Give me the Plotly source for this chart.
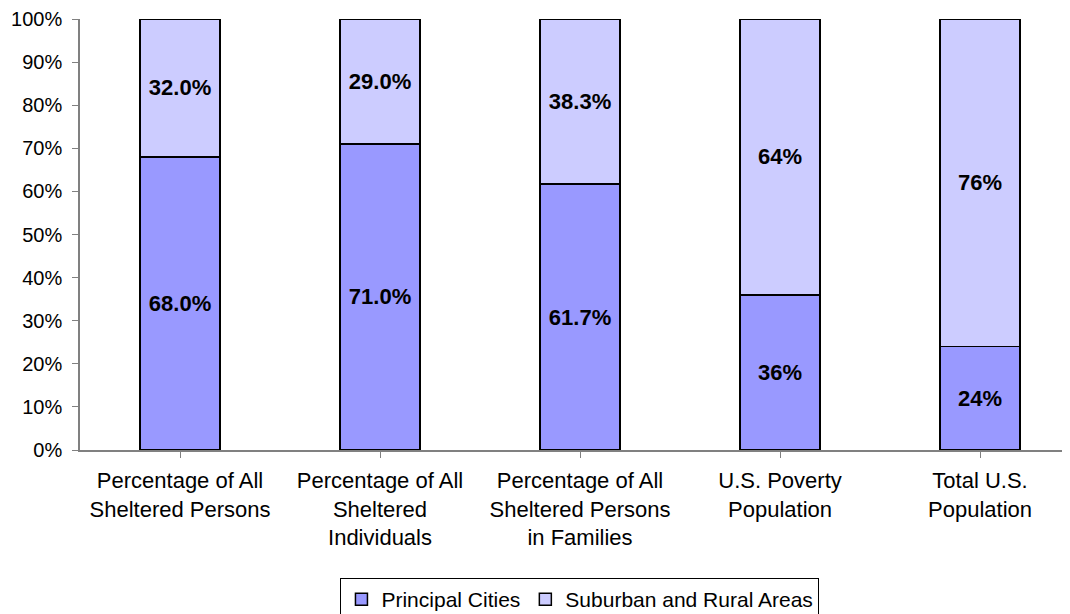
import plotly.graph_objects as go

categories = [
    "Percentage of All<br>Sheltered Persons",
    "Percentage of All<br>Sheltered<br>Individuals",
    "Percentage of All<br>Sheltered Persons<br>in Families",
    "U.S. Poverty<br>Population",
    "Total U.S.<br>Population",
]
principal = [68.0, 71.0, 61.7, 36, 24]
suburban = [32.0, 29.0, 38.3, 64, 76]
principal_labels = ["68.0%", "71.0%", "61.7%", "36%", "24%"]
suburban_labels = ["32.0%", "29.0%", "38.3%", "64%", "76%"]

x = list(range(len(categories)))
FONT = "Liberation Sans, Arial"

label_font = dict(family=FONT, size=22, color="#000000", weight="bold")

fig = go.Figure()
fig.add_trace(go.Bar(
    x=x, y=principal, name="Principal Cities",
    marker=dict(color="#9999FF", line=dict(color="#000000", width=1.5)),
    text=principal_labels, textposition="inside", insidetextanchor="middle",
    textfont=label_font, width=0.4,
))
fig.add_trace(go.Bar(
    x=x, y=suburban, name="Suburban and Rural Areas",
    marker=dict(color="#CCCCFF", line=dict(color="#000000", width=1.5)),
    text=suburban_labels, textposition="inside", insidetextanchor="middle",
    textfont=label_font, width=0.4,
))

# page body has an 8px margin, so the figure is sized/offset to compensate
fig.update_layout(
    barmode="stack",
    width=1062, height=606,
    margin=dict(l=72, r=0, t=11, b=164, autoexpand=False),
    paper_bgcolor="white", plot_bgcolor="white",
    font=dict(family=FONT, size=22, color="#000000"),
    uniformtext=dict(mode=False),
    legend=dict(
        orientation="h", x=0.505, xanchor="center", y=-0.297, yanchor="top",
        bordercolor="#000000", borderwidth=1,
        font=dict(size=21), itemwidth=30, traceorder="normal",
        tracegroupgap=0,
    ),
    showlegend=True,
)
fig.update_xaxes(
    tickmode="array", tickvals=x, ticktext=categories,
    range=[-0.5, 4.45], automargin=False,
    tickfont=dict(size=22), ticklabelstandoff=4,
    showline=True, linecolor="#808080", linewidth=1.5,
    ticks="outside", tickson="boundaries", ticklen=6, tickcolor="#808080",
    showgrid=False, zeroline=False,
)
fig.update_yaxes(
    range=[0, 100], tickvals=list(range(0, 101, 10)),
    ticktext=[f"{v}%" for v in range(0, 101, 10)],
    automargin=False, tickfont=dict(size=20), ticklabelstandoff=6,
    showline=True, linecolor="#808080", linewidth=1.5,
    ticks="outside", ticklen=6, tickcolor="#808080",
    showgrid=False, zeroline=False,
)

fig.write_html("out.html")
